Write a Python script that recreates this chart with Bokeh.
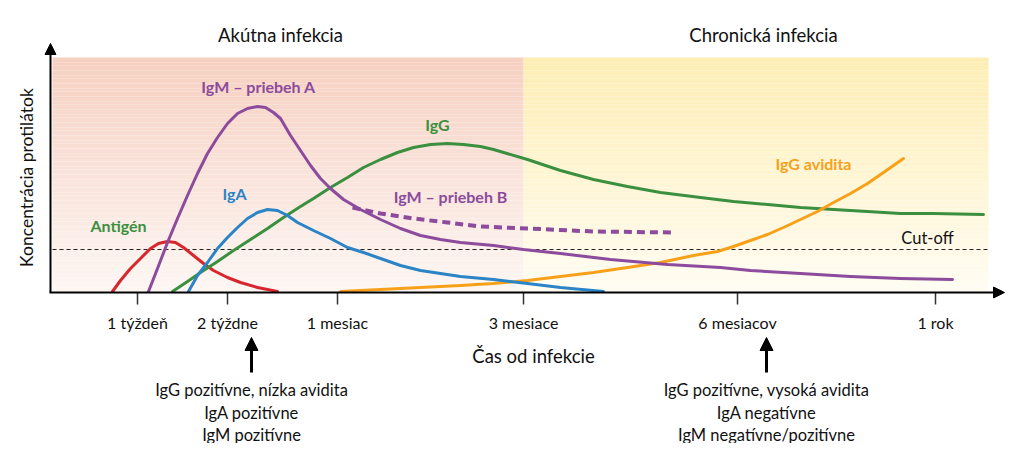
import numpy as np
from bokeh.plotting import figure
from bokeh.models import Range1d, Arrow, NormalHead
from bokeh.core.properties import value
from bokeh.embed import file_html
from bokeh.resources import INLINE

# ---- schematic data: x = position along time axis, y = antibody concentration ----
tick_x = [137, 227, 337, 523, 737, 935]
tick_labels = ["1 týždeň", "2 týždne", "1 mesiac", "3 mesiace", "6 mesiacov", "1 rok"]

cutoff = 42

antigen_x = [112, 120, 130, 140, 150, 158, 167, 175, 183, 193, 203, 213, 227, 240, 257, 277]
antigen_y = [0, 11, 23, 33, 43, 48, 50, 49, 44, 36, 28, 21, 14, 9, 4, 0]

igm_a_x = [148, 157, 167, 177, 187, 197, 207, 217, 227, 237, 247, 257, 265, 273, 280, 290, 300, 310,
           320, 330, 343, 360, 380, 400, 420, 440, 460, 493, 523, 560, 610, 667, 720, 750, 800, 850, 900, 952]
igm_a_y = [0, 23, 49, 73, 96, 118, 138, 154, 168, 178, 183, 185, 184, 179, 173, 156, 141, 126,
           113, 103, 92, 82, 72, 63, 56, 52, 49, 46, 42, 38, 32, 27, 24, 21, 18, 15, 13, 12]

igm_b_x = [352, 380, 413, 447, 480, 527, 593, 675]
igm_b_y = [84, 78, 73, 69, 65, 63, 60, 59]

iga_x = [188, 197, 207, 217, 227, 237, 247, 257, 267, 277, 287, 297, 313, 330, 347, 363, 380, 400,
         420, 440, 460, 493, 527, 560, 603]
iga_y = [0, 16, 29, 43, 54, 64, 73, 79, 82, 81, 76, 69, 61, 53, 44, 39, 33, 26,
         21, 18, 15, 12, 8, 4, 0]

igg_x = [172, 187, 200, 217, 233, 250, 267, 283, 300, 313, 330, 347, 363, 380, 397, 413, 430, 447,
         463, 480, 493, 527, 560, 593, 627, 660, 700, 733, 767, 800, 833, 867, 900, 933, 983]
igg_y = [0, 10, 19, 30, 41, 52, 63, 74, 85, 93, 104, 114, 124, 132, 139, 144, 147, 148,
         147, 145, 142, 132, 121, 112, 105, 99, 94, 90, 87, 84, 82, 80, 78, 78, 77]

avid_x = [340, 400, 460, 493, 527, 560, 593, 627, 660, 693, 717, 733, 750, 767, 783, 800, 817,
          833, 850, 867, 883, 903]
avid_y = [0, 3, 6, 8, 11, 15, 19, 24, 29, 36, 40, 45, 51, 57, 64, 72, 80,
          89, 98, 108, 119, 133]

phase_names = ["Akútna infekcia", "Chronická infekcia"]
phase_start = [52, 523]
phase_end = [523, 988]
phase_top = 234

curve_names = ["Antigén", "IgM – priebeh A", "IgA", "IgG", "IgM – priebeh B", "IgG avidita"]
curve_label_x = [118, 258, 234, 437, 450, 813]
curve_label_y = [66, 205, 98, 167, 95, 128]

note_left = ["IgG pozitívne, nízka avidita", "IgA pozitívne", "IgM pozitívne"]
note_right = ["IgG pozitívne, vysoká avidita", "IgA negatívne", "IgM negatívne/pozitívne"]
note_x = [251, 766]

# ---- colours / styles ----
RED = "#d8262e"
PURPLE = "#8c4b9c"
BLUE = "#2a84c6"
GREEN = "#3b9040"
ORANGE = "#f7a11a"
FONT = "Lato"
INK = "#111111"

p = figure(width=1017, height=443, output_backend="svg", toolbar_location=None,
           x_range=Range1d(0, 1017), y_range=Range1d(-152, 291), min_border=0)
p.axis.visible = False
p.grid.visible = False
p.outline_line_color = None
p.background_fill_color = "white"


def grad(c_top, c_bot, n):
    t = np.linspace(0, 1, n)
    cols = []
    for v in t:
        c = [int(round(a * (1 - v) + b * v)) for a, b in zip(c_top, c_bot)]
        cols.append("#%02x%02x%02x" % tuple(c))
    return cols


n = 90
edges = np.linspace(phase_top, 0, n + 1)
tops, bots = edges[:-1], edges[1:]
for i, (c_top, c_bot) in enumerate([((246, 208, 193), (253, 246, 243)),
                                    ((253, 238, 180), (255, 252, 242))]):
    cols = grad(c_top, c_bot, n)
    p.quad(left=[phase_start[i]] * n, right=[phase_end[i]] * n, top=tops, bottom=bots,
           fill_color=cols, line_color=None)

# cut-off
p.line([phase_start[0], phase_end[1]], [cutoff, cutoff], line_color="#222222", line_width=1.2, line_dash="4 3")

# curves
kw = dict(line_width=3, line_join="round", line_cap="round")
p.line(antigen_x, antigen_y, line_color=RED, **kw)
p.line(igg_x, igg_y, line_color=GREEN, **kw)
p.line(avid_x, avid_y, line_color=ORANGE, **kw)
p.line(iga_x, iga_y, line_color=BLUE, **kw)
p.line(igm_a_x, igm_a_y, line_color=PURPLE, **kw)
p.line(igm_b_x, igm_b_y, line_color=PURPLE, line_width=4, line_dash="8 5", line_join="round")

# axes
head = dict(fill_color="black", line_color="black")
p.add_layout(Arrow(end=NormalHead(size=11, **head), x_start=50, y_start=-1, x_end=50, y_end=248,
                   line_width=2, line_color="black"))
p.add_layout(Arrow(end=NormalHead(size=11, **head), x_start=49, y_start=-1, x_end=1004, y_end=-1,
                   line_width=2, line_color="black"))
p.segment(x0=tick_x, y0=[-1] * len(tick_x), x1=tick_x, y1=[-13] * len(tick_x),
          line_color="#333333", line_width=1.5)
p.text(x=tick_x, y=[-31] * len(tick_x), text=tick_labels, text_align="center", text_baseline="middle",
       text_font=value(FONT), text_font_size="16px", text_color=INK)

# curve labels
p.text(x=curve_label_x, y=curve_label_y, text=curve_names,
       text_color=[GREEN, PURPLE, BLUE, GREEN, PURPLE, ORANGE],
       text_align="center", text_baseline="middle", text_font=value(FONT),
       text_font_size="16px", text_font_style="bold")

p.text(x=[927], y=[54], text=["Cut-off"], text_align="center", text_baseline="middle",
       text_font=value(FONT), text_font_size="16.5px", text_color=INK)

# phase titles
p.text(x=[280, 763], y=[257, 257], text=phase_names, text_align="center", text_baseline="middle",
       text_font=value(FONT), text_font_size="18.5px", text_color=INK)

# axis titles
p.text(x=[26], y=[114], text=["Koncentrácia protilátok"], angle=np.pi / 2, text_align="center",
       text_baseline="middle", text_font=value(FONT), text_font_size="17.5px", text_color=INK)
p.text(x=[533], y=[-64], text=["Čas od infekcie"], text_align="center", text_baseline="middle",
       text_font=value(FONT), text_font_size="18.5px", text_color=INK)

# pointer arrows and notes
for nx in note_x:
    p.add_layout(Arrow(end=NormalHead(size=13, **head), x_start=nx, y_start=-81, x_end=nx, y_end=-46,
                       line_width=3, line_color="black"))
note_y = [-98, -121, -143]
p.text(x=[note_x[0]] * 3, y=note_y, text=note_left, text_align="center", text_baseline="middle",
       text_font=value(FONT), text_font_size="16.5px", text_color=INK)
p.text(x=[note_x[1]] * 3, y=note_y, text=note_right, text_align="center", text_baseline="middle",
       text_font=value(FONT), text_font_size="16.5px", text_color=INK)

open("out.html", "w").write(file_html(p, INLINE))
